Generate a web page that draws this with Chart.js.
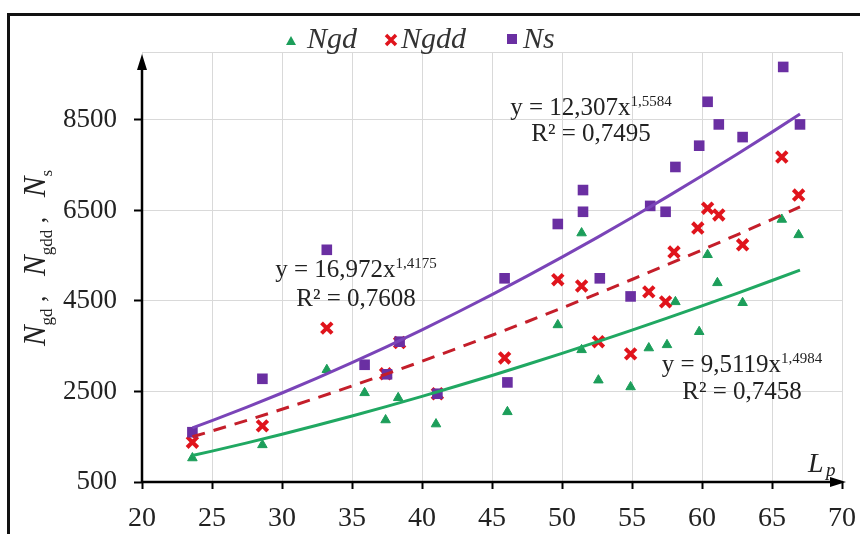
<!DOCTYPE html>
<html>
<head>
<meta charset="utf-8">
<script src="https://cdn.jsdelivr.net/npm/chart.js@4.4.1/dist/chart.umd.min.js"></script>
<style>
  body { margin: 0; background: #fff; }
</style>
</head>
<body>
<canvas id="myChart" width="860" height="534"></canvas>
<script>
  // measured points, Lp on x
  const ngdX = [23.6, 28.6, 33.2, 35.9, 37.4, 38.3, 41.0, 46.1, 49.7, 51.4, 51.4, 52.6, 54.9, 56.2, 57.5, 58.1, 59.8, 60.4, 61.1, 62.9, 65.7, 66.9];
  const ngdY = [1030, 1320, 2980, 2470, 1870, 2360, 1780, 2050, 3970, 6000, 3420, 2750, 2600, 3460, 3530, 4480, 3820, 5520, 4900, 4460, 6300, 5960];

  const ngddX = [23.6, 28.6, 33.2, 37.4, 38.4, 41.1, 45.9, 49.7, 51.4, 52.6, 54.9, 56.2, 57.4, 58.0, 59.7, 60.4, 61.2, 62.9, 65.7, 66.9];
  const ngddY = [1380, 1740, 3900, 2890, 3580, 2450, 3240, 4970, 4830, 3600, 3330, 4700, 4480, 5580, 6110, 6550, 6400, 5740, 7680, 6840];

  const nsX = [23.6, 28.6, 33.2, 35.9, 37.5, 38.4, 41.1, 45.9, 46.1, 49.7, 51.5, 51.5, 52.7, 54.9, 56.3, 57.4, 58.1, 59.8, 60.4, 61.2, 62.9, 65.8, 67.0];
  const nsY = [1600, 2780, 5630, 3090, 2880, 3600, 2450, 5000, 2700, 6200, 6950, 6470, 5000, 4600, 6600, 6470, 7460, 7930, 8900, 8400, 8120, 9670, 8400];

  // power trendlines y = a * x^b  (Ngd, Ngdd, Ns)
  const fitA = [9.5119, 16.972, 12.307];
  const fitB = [1.4984, 1.4175, 1.5584];
  const fitR2 = [0.7458, 0.7608, 0.7495];
  const trendX = [23.6, 25, 27.5, 30, 32.5, 35, 37.5, 40, 42.5, 45, 47.5, 50, 52.5, 55, 57.5, 60, 62.5, 65, 67];

  const xTicks = [20, 25, 30, 35, 40, 45, 50, 55, 60, 65, 70];
  const yTicks = [500, 2500, 4500, 6500, 8500];

  const seriesNames = ['Ngd', 'Ngdd', 'Ns'];
  const colors = ['#1c9e5a', '#e0141c', '#6a2fa2'];
  const lineColors = ['#20a862', '#c41e2a', '#7a44b8'];

  const SERIF = '"Liberation Serif", "Times New Roman", serif';

  const pts = (xs, ys) => xs.map((x, i) => ({ x: x, y: ys[i] }));
  const trend = i => trendX.map(x => ({ x: x, y: fitA[i] * Math.pow(x, fitB[i]) }));
  const comma = v => String(v).replace('.', ',');

  const trendSet = (i, dash) => ({
    label: seriesNames[i] + ' trend',
    data: trend(i),
    showLine: true,
    borderColor: lineColors[i],
    borderWidth: 3,
    borderDash: dash,
    pointRadius: 0,
    fill: false,
  });

  const data = {
    datasets: [
      trendSet(2, []),
      trendSet(1, [13, 9]),
      trendSet(0, []),
      {
        label: 'Ns',
        data: pts(nsX, nsY),
        pointStyle: 'rect',
        pointRadius: 7.5,
        backgroundColor: colors[2],
        borderColor: colors[2],
        borderWidth: 0,
      },
      {
        label: 'Ngdd',
        data: pts(ngddX, ngddY),
        pointStyle: 'crossRot',
        pointRadius: 7.5,
        borderColor: colors[1],
        borderWidth: 4,
      },
      {
        label: 'Ngd',
        data: pts(ngdX, ngdY),
        pointStyle: 'triangle',
        pointRadius: 5.5,
        backgroundColor: colors[0],
        borderColor: colors[0],
        borderWidth: 1,
      },
    ]
  };

  // axes with arrows, titles, legend and trendline equations
  const decor = {
    id: 'decor',
    afterDraw(chart) {
      const ctx = chart.ctx;
      const { left, right, top, bottom } = chart.chartArea;
      ctx.save();

      // outer frame (top and left edges)
      ctx.strokeStyle = '#111';
      ctx.lineWidth = 3;
      ctx.beginPath();
      ctx.moveTo(860, 14.5);
      ctx.lineTo(8.5, 14.5);
      ctx.lineTo(8.5, 534);
      ctx.stroke();

      // light top border of the plot area
      ctx.strokeStyle = '#d9d9d9';
      ctx.lineWidth = 1;
      ctx.beginPath();
      ctx.moveTo(left, top + 0.5);
      ctx.lineTo(right, top + 0.5);
      ctx.stroke();

      // axis lines with arrow heads
      ctx.strokeStyle = '#000';
      ctx.fillStyle = '#000';
      ctx.lineWidth = 2.5;
      ctx.beginPath();
      ctx.moveTo(left, bottom);
      ctx.lineTo(left, top + 12);
      ctx.moveTo(left, bottom);
      ctx.lineTo(right - 6, bottom);
      ctx.stroke();
      ctx.beginPath();
      ctx.moveTo(left, top + 2);
      ctx.lineTo(left - 5, top + 18);
      ctx.lineTo(left + 5, top + 18);
      ctx.closePath();
      ctx.fill();
      ctx.beginPath();
      ctx.moveTo(right + 4, bottom);
      ctx.lineTo(right - 12, bottom - 5);
      ctx.lineTo(right - 12, bottom + 5);
      ctx.closePath();
      ctx.fill();

      // y axis title
      ctx.fillStyle = '#222';
      ctx.textBaseline = 'alphabetic';
      const parts = [['N', 'm'], ['gd', 's'], [' ,   ', 'c'], ['N', 'm'], ['gdd', 's'], [' ,   ', 'c'], ['N', 'm'], ['s', 's']];
      const fonts = { m: 'italic 31px ' + SERIF, s: '17px ' + SERIF, c: '26px ' + SERIF };
      let total = 0;
      parts.forEach(p => { ctx.font = fonts[p[1]]; total += ctx.measureText(p[0]).width; });
      ctx.save();
      ctx.translate(45, 258 + total / 2);
      ctx.rotate(-Math.PI / 2);
      let px = 0;
      parts.forEach(p => {
        ctx.font = fonts[p[1]];
        ctx.fillText(p[0], px, p[1] === 's' ? 7 : 0);
        px += ctx.measureText(p[0]).width;
      });
      ctx.restore();

      // x axis title
      ctx.font = 'italic 28px ' + SERIF;
      ctx.fillText('L', 808, 472);
      ctx.font = 'italic 19px ' + SERIF;
      ctx.fillText('p', 826, 476);

      // legend
      const lg = [[291, 41, 307], [391, 40, 401], [512, 39, 523]];
      ctx.font = 'italic 30px ' + SERIF;
      lg.forEach((l, i) => {
        const [mx, my, tx] = l;
        ctx.fillStyle = colors[i];
        ctx.strokeStyle = colors[i];
        if (i === 0) {
          ctx.beginPath();
          ctx.moveTo(mx, my - 5);
          ctx.lineTo(mx - 5, my + 4);
          ctx.lineTo(mx + 5, my + 4);
          ctx.closePath();
          ctx.fill();
        } else if (i === 1) {
          ctx.lineWidth = 3.5;
          ctx.beginPath();
          ctx.moveTo(mx - 5, my - 5); ctx.lineTo(mx + 5, my + 5);
          ctx.moveTo(mx + 5, my - 5); ctx.lineTo(mx - 5, my + 5);
          ctx.stroke();
        } else {
          ctx.fillRect(mx - 5, my - 5, 10, 10);
        }
        ctx.fillStyle = '#333';
        ctx.fillText(seriesNames[i], tx, 48);
      });

      // trendline equations (Ngd, Ngdd, Ns)
      const eqPos = [[742, 372, 399], [356, 277, 306], [591, 115, 141]];
      eqPos.forEach((e, i) => {
        const [cx, b1, b2] = e;
        const main = 'y = ' + comma(fitA[i]) + 'x';
        const sup = comma(fitB[i]);
        ctx.fillStyle = '#222';
        ctx.font = '25px ' + SERIF;
        const w1 = ctx.measureText(main).width;
        ctx.font = '15px ' + SERIF;
        const w2 = ctx.measureText(sup).width;
        let sx = cx - (w1 + w2) / 2;
        ctx.font = '25px ' + SERIF;
        ctx.fillText(main, sx, b1);
        ctx.font = '15px ' + SERIF;
        ctx.fillText(sup, sx + w1, b1 - 9);
        ctx.font = '25px ' + SERIF;
        const r2 = 'R² = ' + comma(fitR2[i]);
        ctx.fillText(r2, cx - ctx.measureText(r2).width / 2, b2);
      });

      ctx.restore();
    }
  };

  const config = {
    type: 'scatter',
    data: data,
    options: {
      responsive: false,
      animation: false,
      devicePixelRatio: 1,
      layout: { padding: { top: 52, right: 18, left: 0, bottom: 0 } },
      plugins: {
        legend: { display: false },
        tooltip: { enabled: false },
      },
      scales: {
        x: {
          type: 'linear',
          min: 20,
          max: 70,
          afterBuildTicks: s => { s.ticks = xTicks.map(v => ({ value: v })); },
          afterFit: s => {
            s.height = 52;
            s.paddingLeft = 0;
            s.paddingRight = 0;
          },
          border: { display: false },
          grid: { color: '#d9d9d9', lineWidth: 1, tickColor: '#000', tickLength: 7, tickWidth: 2 },
          ticks: {
            color: '#222',
            padding: 13,
            maxRotation: 0,
            callback: v => String(v),
            font: { family: SERIF, size: 28 },
          },
        },
        y: {
          type: 'linear',
          min: 500,
          max: 10000,
          afterBuildTicks: s => { s.ticks = yTicks.map(v => ({ value: v })); },
          afterFit: s => {
            s.width = 142;
            s.paddingTop = 0;
            s.paddingBottom = 0;
          },
          border: { display: false },
          grid: { color: '#d9d9d9', lineWidth: 1, tickColor: '#000', tickLength: 8, tickWidth: 2 },
          ticks: {
            color: '#222',
            padding: 17,
            callback: v => String(v),
            font: { family: SERIF, size: 27 },
          },
        },
      },
    },
    plugins: [decor],
  };

  const myChart = new Chart(
    document.getElementById('myChart'),
    config
  );
</script>
</body>
</html>
